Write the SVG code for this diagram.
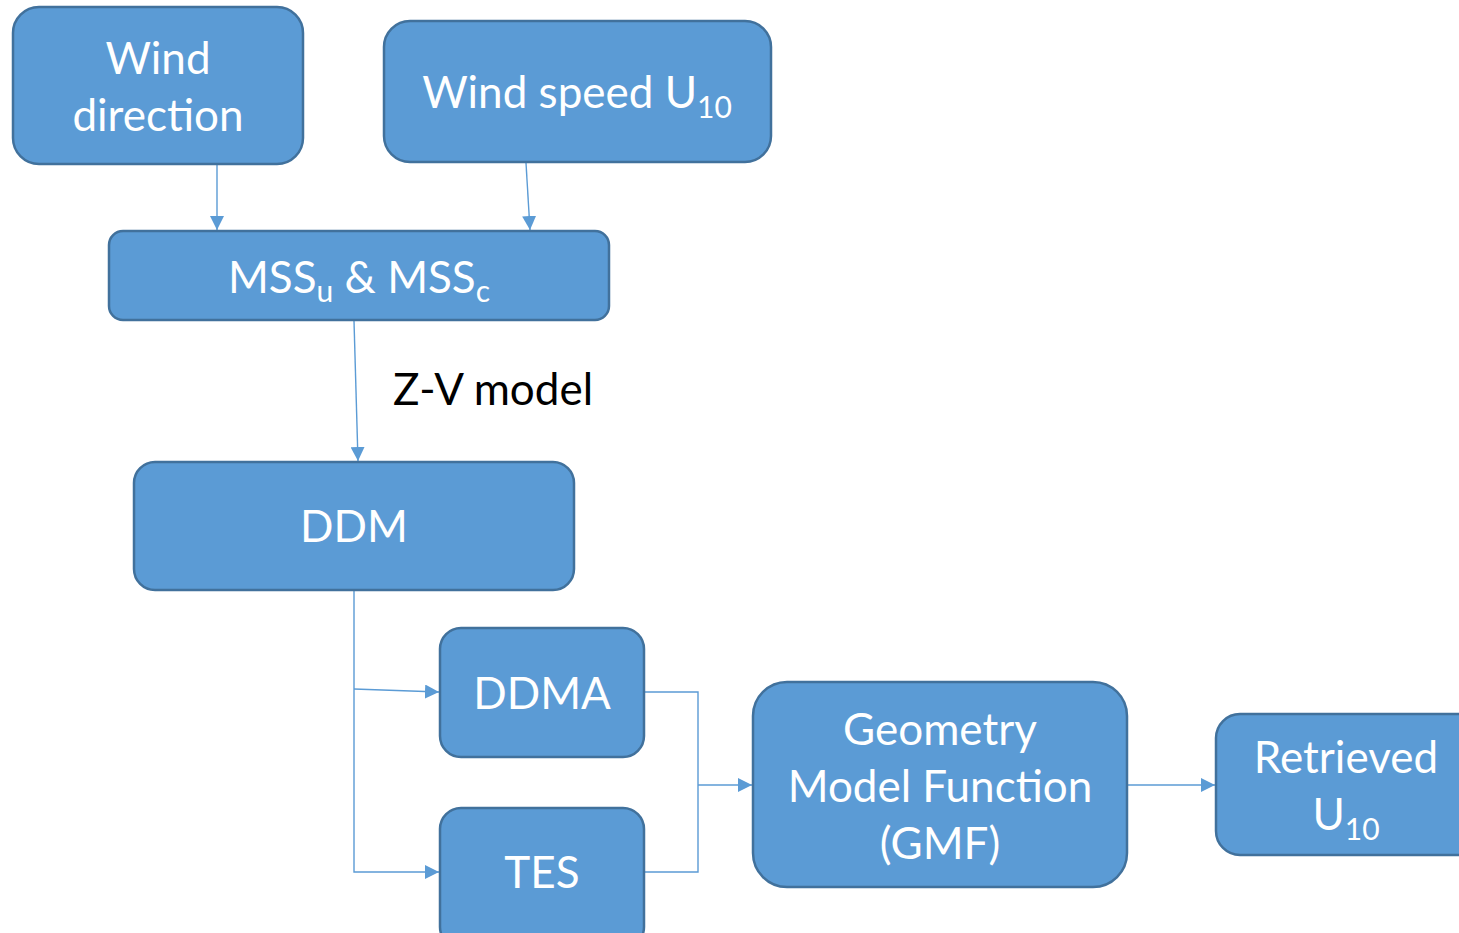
<svg xmlns="http://www.w3.org/2000/svg" width="1459" height="933" viewBox="0 0 1459 933">
  <style>
    .box { fill: #5B9BD5; stroke: #41719C; stroke-width: 2.5; }
    .lbl { font-family: Lato, "Open Sans", "Liberation Sans", sans-serif; font-size: 44px; fill: #FFFFFF; text-anchor: middle; }
    .sub { font-size: 30px; }
    .link { fill: none; stroke: #5B9BD5; stroke-width: 1.4; }
    .note { font-family: Lato, "Open Sans", "Liberation Sans", sans-serif; font-size: 44px; fill: #000000; }
  </style>
  <defs>
    <marker id="arrowL" viewBox="0 0 10 10" refX="10" refY="5" markerWidth="14" markerHeight="14" markerUnits="userSpaceOnUse" orient="auto">
      <path d="M0,0 L10,5 L0,10 Z" fill="#5B9BD5"/>
    </marker>
  </defs>

  <g id="connectors">
    <line class="link" x1="217" y1="165" x2="217" y2="230" marker-end="url(#arrowL)"/>
    <line class="link" x1="526" y1="163" x2="530" y2="230" marker-end="url(#arrowL)"/>
    <line class="link" x1="354" y1="321" x2="358" y2="461" marker-end="url(#arrowL)"/>
    <polyline class="link" points="354,591 354,872 439,872" marker-end="url(#arrowL)"/>
    <line class="link" x1="354" y1="689" x2="439" y2="692" marker-end="url(#arrowL)"/>
    <polyline class="link" points="645,692 698,692 698,872 645,872"/>
    <line class="link" x1="698" y1="785" x2="752" y2="785" marker-end="url(#arrowL)"/>
    <line class="link" x1="1128" y1="785" x2="1215" y2="785" marker-end="url(#arrowL)"/>
    <text class="note" x="393" y="405">Z-V model</text>
  </g>

  <g id="wind-direction">
    <rect class="box" x="13" y="7" width="290" height="157" rx="26"/>
    <text class="lbl" x="158" y="74">Wind</text>
    <text class="lbl" x="158" y="131">direction</text>
  </g>

  <g id="wind-speed">
    <rect class="box" x="384" y="21" width="387" height="141" rx="26"/>
    <text class="lbl" x="577" y="108">Wind speed U<tspan class="sub" dy="10">10</tspan></text>
  </g>

  <g id="mss">
    <rect class="box" x="109" y="231" width="500" height="89" rx="14"/>
    <text class="lbl" x="359" y="293">MSS<tspan class="sub" dy="9">u</tspan><tspan dy="-9"> &amp; MSS</tspan><tspan class="sub" dy="9">c</tspan></text>
  </g>

  <g id="ddm">
    <rect class="box" x="134" y="462" width="440" height="128" rx="21"/>
    <text class="lbl" x="354" y="542">DDM</text>
  </g>

  <g id="ddma">
    <rect class="box" x="440" y="628" width="204" height="129" rx="21"/>
    <text class="lbl" x="542" y="709">DDMA</text>
  </g>

  <g id="tes">
    <rect class="box" x="440" y="808" width="204" height="140" rx="21"/>
    <text class="lbl" x="542" y="888">TES</text>
  </g>

  <g id="gmf">
    <rect class="box" x="753" y="682" width="374" height="205" rx="34"/>
    <text class="lbl" x="940" y="745">Geometry</text>
    <text class="lbl" x="940" y="802">Model Function</text>
    <text class="lbl" x="940" y="859">(GMF)</text>
  </g>

  <g id="retrieved">
    <rect class="box" x="1216" y="714" width="270" height="141" rx="24"/>
    <text class="lbl" x="1346" y="773">Retrieved</text>
    <text class="lbl" x="1346" y="830">U<tspan class="sub" dy="10">10</tspan></text>
  </g>
</svg>
